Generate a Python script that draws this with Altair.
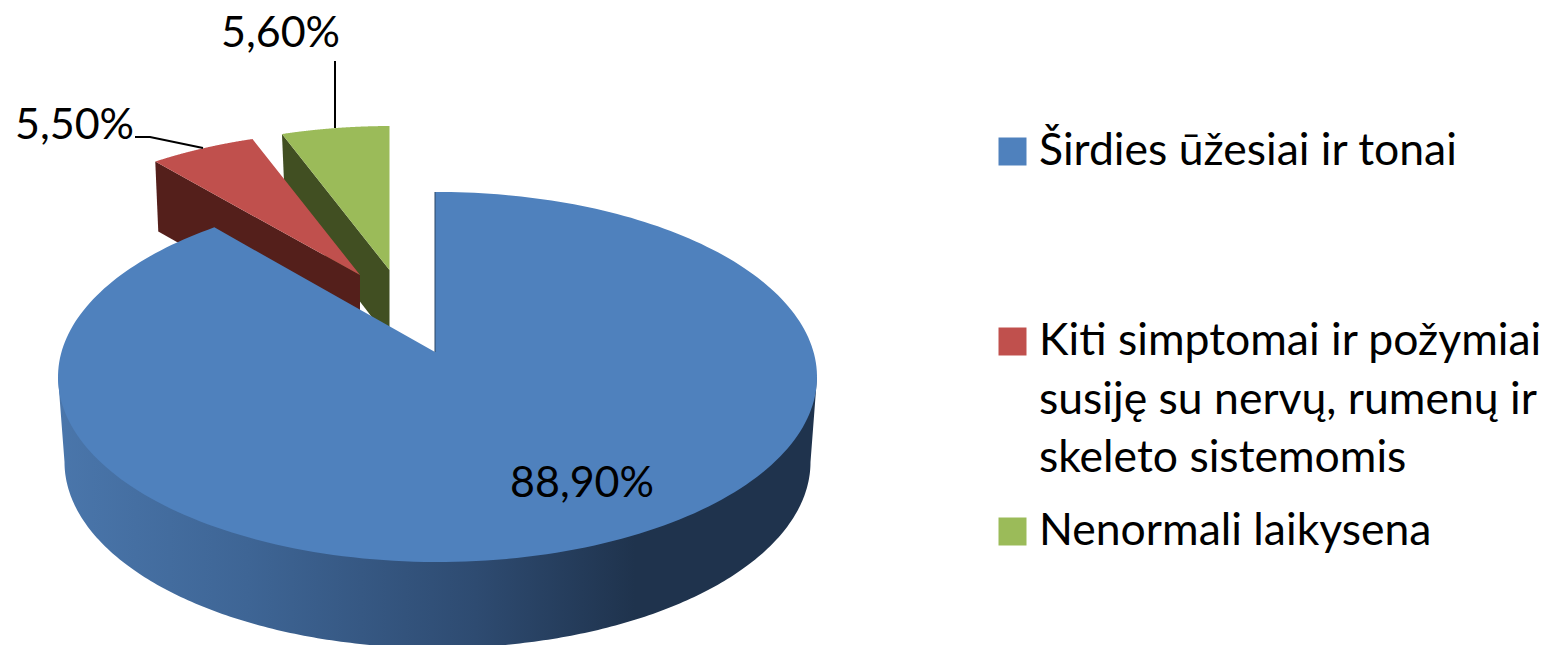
import math
import altair as alt
import pandas as pd

# ---- chart values ----
shares = [88.9, 5.5, 5.6]
share_labels = ["88,90%", "5,50%", "5,60%"]
legend_lines = [
    ["Širdies ūžesiai ir tonai"],
    ["Kiti simptomai ir požymiai", "susiję su nervų, rumenų ir", "skeleto sistemomis"],
    ["Nenormali laikysena"],
]
colors = ["#4F81BD", "#C0504D", "#9BBB59"]
dark_colors = ["#1F334D", "#541F1B", "#414F22"]

# ---- picture geometry (pixels of the page) ----
W, H = 1549, 645
FONT = "Lato"
CX, CY, RX, RY = 437.5, 377.0, 379.5, 185.0
APEX = (435.0, 352.0)
BOTTOM = (437.5, 462.0, 373.0, 186.0)
SMALL_SX, SMALL_SY = 0.945, 0.90
APEX_SMALL = [None, (360.0, 275.0), (389.5, 270.0)]
DEPTH = 70.0


def rim_offset(theta, stretch=1.0):
    """Offset from the apex to the rim, along the slice direction theta (clockwise from the top)."""
    dx, dy = stretch * RX * math.sin(theta), -RY * math.cos(theta)
    ox, oy = APEX[0] - CX, APEX[1] - CY
    a = (dx / RX) ** 2 + (dy / RY) ** 2
    b = 2 * (ox * dx / RX ** 2 + oy * dy / RY ** 2)
    c = (ox / RX) ** 2 + (oy / RY) ** 2 - 1
    t = (-b + math.sqrt(b * b - 4 * a * c)) / (2 * a)
    return t * dx, t * dy


total = sum(shares)
edges = [0.0]
for s in shares:
    edges.append(edges[-1] + s / total * 2 * math.pi)


def slice_points(k, steps=240):
    start, end = edges[k], edges[k + 1]
    if k == 0:
        off = [rim_offset(start + (end - start) * j / steps, 1.03) for j in range(steps + 1)]
        apex = APEX
        rim = [(apex[0] + a, apex[1] + b) for a, b in off]
    else:
        off = [rim_offset(start + (end - start) * j / steps) for j in range(steps + 1)]
        apex = APEX_SMALL[k]
        rim = [(apex[0] + a * SMALL_SX, apex[1] + b * SMALL_SY) for a, b in off]
    return apex, rim


def frame(points):
    return pd.DataFrame({"x": [p[0] for p in points], "y": [p[1] for p in points],
                         "i": list(range(len(points)))})


x_scale = alt.Scale(domain=[8, W - 8], nice=False, zero=False)
y_scale = alt.Scale(domain=[H, 8], nice=False, zero=False)
X = alt.X("x:Q", scale=x_scale, axis=None)
Y = alt.Y("y:Q", scale=y_scale, axis=None)


def polygon(points, fill):
    return alt.Chart(frame(points)).mark_line(
        fill=fill, strokeWidth=0, interpolate="linear-closed", clip=True
    ).encode(x=X, y=Y, order=alt.Order("i:Q"))


layers = []

# inner walls and tops of the two pulled-out slices
for k in (2, 1):
    apex, rim = slice_points(k)
    left = rim[0]
    wall = [left, apex, (apex[0], apex[1] + DEPTH), (left[0] + 3, left[1] + DEPTH)]
    layers.append(polygon(wall, dark_colors[k]))
    layers.append(polygon([apex] + rim, colors[k]))

# outer wall of the large slice
bx, by, brx, bry = BOTTOM
wall_pts = [(CX + RX, CY)]
for j in range(241):
    a = math.pi * j / 240
    wall_pts.append((bx + brx * math.cos(a), by + bry * math.sin(a)))
wall_pts.append((CX - RX, CY))
gradient = alt.LinearGradient(
    gradient="linear", x1=0, x2=1, y1=0, y2=0,
    stops=[
        alt.GradientStop(color="#4A76AB", offset=0.0),
        alt.GradientStop(color="#3E6595", offset=0.25),
        alt.GradientStop(color="#2E4B71", offset=0.55),
        alt.GradientStop(color="#1F334D", offset=0.76),
        alt.GradientStop(color="#1F334D", offset=1.0),
    ],
)
layers.append(polygon(wall_pts, gradient))

# top of the large slice
apex0, rim0 = slice_points(0)
layers.append(polygon([apex0] + rim0, colors[0]))
layers.append(
    alt.Chart(frame([apex0, rim0[0]])).mark_line(color="#2B4766", strokeWidth=1)
    .encode(x=X, y=Y, order=alt.Order("i:Q"))
)

# leader lines
for pts in ([(335, 61), (335, 128)], [(135, 137), (150, 137), (203, 148)]):
    layers.append(
        alt.Chart(frame(pts)).mark_line(color="#000000", strokeWidth=2)
        .encode(x=X, y=Y, order=alt.Order("i:Q"))
    )

# value labels
label_df = pd.DataFrame({"x": [510, 15, 221], "y": [497, 139, 47], "t": share_labels})
layers.append(
    alt.Chart(label_df).mark_text(font=FONT, fontSize=43, align="left", baseline="alphabetic", color="#000000")
    .encode(x=X, y=Y, text="t:N")
)

# legend
swatch_y = [151.5, 341.5, 531.5]
swatch_df = pd.DataFrame({"x": [1012.5] * 3, "y": swatch_y, "c": colors})
layers.append(
    alt.Chart(swatch_df).mark_point(shape="square", filled=True, size=28 * 28, opacity=1, strokeWidth=0)
    .encode(x=X, y=Y, fill=alt.Fill("c:N", scale=None))
)
baselines = [[165], [355, 413.5, 472], [545]]
rows = []
for lines, ys in zip(legend_lines, baselines):
    for line, yy in zip(lines, ys):
        rows.append({"x": 1039, "y": yy, "t": line})
layers.append(
    alt.Chart(pd.DataFrame(rows)).mark_text(font=FONT, fontSize=44.5, align="left", baseline="alphabetic", color="#000000")
    .encode(x=X, y=Y, text="t:N")
)

chart = alt.layer(*layers).properties(
    width=W - 16, height=H - 8, padding=0, background="#ffffff",
    autosize=alt.AutoSizeParams(type="none")
).configure_view(stroke=None)

chart.save("out.html", embed_options={"renderer": "svg", "actions": False})
